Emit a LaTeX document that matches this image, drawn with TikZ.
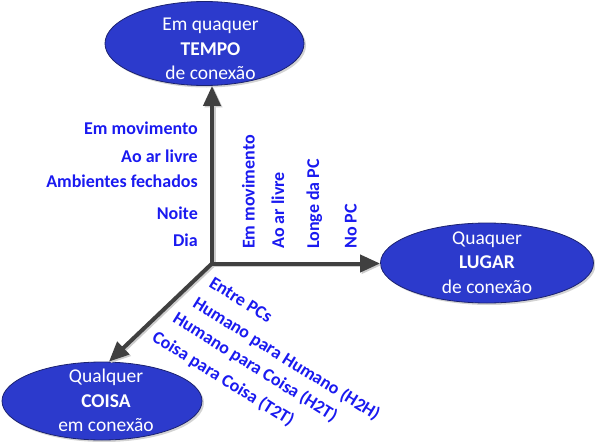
\documentclass[tikz,border=0pt]{standalone}
\usepackage{fontspec}
\setmainfont{Carlito}
\usetikzlibrary{arrows.meta,shapes.geometric,shadows}
\definecolor{bubblefill}{HTML}{2C3ACC}
\definecolor{bubbledraw}{HTML}{1B2270}
\definecolor{tagtext}{HTML}{1A1AF0}
\definecolor{axisdraw}{HTML}{404040}

\begin{document}
\begin{tikzpicture}[
    x=1pt, y=-1pt,
    >={Triangle[length=20pt, width=17pt]},
    bubble/.style={ellipse, fill=bubblefill, draw=bubbledraw, line width=0.8pt,
                   inner sep=0pt,
                   drop shadow={shadow xshift=2pt, shadow yshift=-2pt, opacity=0.35}},
    bubbletext/.style={text=white, align=center, inner sep=0pt,
                       font=\fontsize{19.5}{24.5}\selectfont},
    axis/.style={->, draw=axisdraw, line width=4pt, line cap=rect},
    axisshadow/.style={axis, draw=black!20,
                       transform canvas={xshift=1.5pt, yshift=-1.5pt}},
    tag/.style={text=tagtext, inner sep=0pt, font=\fontsize{18}{21}\selectfont\bfseries},
]
\useasboundingbox (0,0) rectangle (595,442);

% ---------------- The three bubbles ----------------
\node[bubble, minimum width=199pt, minimum height=84pt] (tempo) at (204.5,43.5) {};
\node[bubbletext] (tempotxt) at (210.5,49.2) {Em quaquer\\\textbf{TEMPO}\\de conexão};

\node[bubble, minimum width=213pt, minimum height=80pt] (lugar) at (487,263) {};
\node[bubbletext] (lugartxt) at (487,262.7) {Quaquer\\\textbf{LUGAR}\\de conexão};

\node[bubble, minimum width=200pt, minimum height=78pt] (coisa) at (102,401) {};
\node[bubbletext] (coisatxt) at (106,400.7) {Qualquer\\\textbf{COISA}\\em conexão};

% ---------------- Axes ----------------
\coordinate (origin) at (212,263.5);

\foreach \tip in {{(origin |- tempo.south)}, {(origin -| lugar.west)}, {(coisa.80)}}
  \draw[axisshadow] (origin) -- \tip;
\foreach \tip in {{(origin |- tempo.south)}, {(origin -| lugar.west)}, {(coisa.80)}}
  \draw[axis] (origin) -- \tip;

% ---------------- Labels along the axes ----------------
\foreach \y/\txt [count=\i] in {134/Em movimento, 162/Ao ar livre,
    187.3/Ambientes fechados, 219.3/Noite, 246/Dia}
  \node[tag, anchor=base east] (tm\i) at (198,\y) {\txt};

\foreach \x/\txt [count=\i] in {254.5/Em movimento, 284/Ao ar livre,
    319/Longe da PC, 356.5/No PC}
  \node[tag, rotate=90, anchor=base west] (lg\i) at (\x,249) {\txt};

\foreach \x/\y/\txt [count=\i] in {208/286/Entre PCs,
    191.6/306/Humano para Humano (H2H), 171.6/321.6/Humano para Coisa (H2T),
    151/340/Coisa para Coisa (T2T)}
  \node[tag, rotate=-32, anchor=base west] (cs\i) at (\x,\y) {\txt};

\end{tikzpicture}
\end{document}
